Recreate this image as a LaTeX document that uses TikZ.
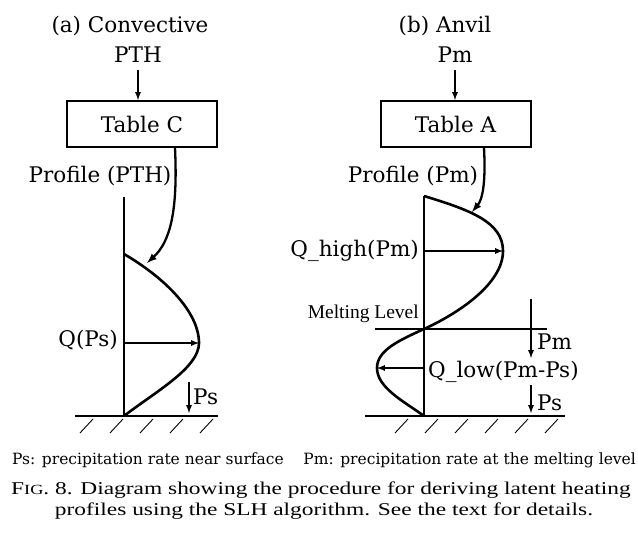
\documentclass[tikz,border=0pt]{standalone}
\usepackage{graphicx}
\usepackage{fontspec}
\setmainfont{DejaVu Serif}
\newfontfamily\timesfont{Liberation Serif}
\usetikzlibrary{positioning}

\begin{document}
\begin{tikzpicture}[x=1pt,y=-1pt,
    lbl/.style={font=\fontsize{21.5}{24}\selectfont, inner sep=0pt},
    tablebox/.style={draw, line width=2pt, minimum width=150pt, minimum height=46pt, inner sep=0pt, font=\fontsize{21.5}{24}\selectfont},
    note/.style={font=\fontsize{15.5}{18}\selectfont, inner sep=0pt},
    capline/.style={font=\timesfont\fontsize{18}{20}\selectfont, inner sep=0pt},
    arr/.style={-latex, line width=1.7pt},
    bent/.style={-latex, line width=2.3pt},
    prof/.style={line width=2.6pt},
    axis/.style={line width=1.3pt},
    gnd/.style={line width=2.2pt},
    hatch/.style={line width=0.9pt}]

    \useasboundingbox (0,0) rectangle (638,545);

    % (a) convective
    \node[lbl, anchor=base] (ttlA) at (130,33) {(a) Convective};
    \node[lbl, anchor=base] (inA) at (138,63) {PTH};
    \node[tablebox] (tabC) at (142,124) {Table C};
    \node[lbl, anchor=base] (profA) at (100,183) {Profile (PTH)};
    \draw[arr] ([yshift=-7pt]inA.south) -- (inA.south |- tabC.north);

    \coordinate (axTopA) at (124,197);
    \coordinate (gndA) at (124,416);
    \coordinate (topPA) at (124,254);
    \coordinate (peakA) at (199,343);
    \coordinate (hitA) at (147,263);
    \draw[axis] (axTopA) -- (gndA);
    \draw[prof] (topPA) .. controls (165,278) and (199,312) .. (peakA) .. controls (199,368) and (155,392) .. (gndA);
    \draw[bent] ([xshift=33pt]tabC.south) .. controls (178,212) and (170,242) .. (hitA);

    \draw[arr] (gndA |- peakA) -- (peakA);
    \node[lbl, anchor=base east] (qA) at (118,347) {Q(Ps)};

    \coordinate (psTopA) at (189,382);
    \draw[arr] (psTopA) -- (189,413);
    \node[lbl, anchor=base west] (psA) at (193,405) {Ps};

    \draw[gnd] (75,416) -- (218,416);
    \foreach \x in {93,123,...,213}
        \draw[hatch] (\x,419) -- ++(-13,14);

    % (b) anvil
    \node[lbl, anchor=base] (ttlB) at (445,33) {(b) Anvil};
    \node[lbl, anchor=base] (inB) at (455,63) {Pm};
    \node[tablebox] (tabA) at (455.5,124) {Table A};
    \node[lbl, anchor=base] (profB) at (413,183) {Profile (Pm)};
    \draw[arr] ([yshift=-7pt]inB.south) -- (inB.south |- tabA.north);

    \coordinate (axTopB) at (424,196);
    \coordinate (gndB) at (424,416);
    \coordinate (peakB) at (503,251);
    \coordinate (meltB) at (424,329);
    \coordinate (lowB) at (377,368);
    \coordinate (hitB) at (472,212);
    \draw[axis] (axTopB) -- (gndB);
    \draw[prof] (axTopB) .. controls (470,210) and (503,222) .. (peakB)
        .. controls (503,285) and (455,315) .. (meltB)
        .. controls (400,340) and (377,350) .. (lowB)
        .. controls (377,388) and (405,402) .. (gndB);
    \draw[bent] ([xshift=28.5pt]tabA.south) .. controls (486,185) and (482,200) .. (hitB);

    \draw[arr] (gndB |- peakB) -- (peakB);
    \node[lbl, anchor=base east] (qhigh) at (419,257) {Q\_high(Pm)};

    \node[font=\timesfont\fontsize{19.5}{22}\selectfont, inner sep=0pt, anchor=base east] (melt) at (419,319) {Melting Level};
    \draw[gnd] (375,329) -- (547,329);

    \draw[arr] (531,299) -- (531,358);
    \node[lbl, anchor=base west] (pmB) at (537,350) {Pm};

    \draw[arr] (gndB |- lowB) -- (lowB);
    \node[lbl, anchor=base west] (qlow) at (428,378) {Q\_low(Pm-Ps)};

    \draw[arr] (531,385) -- (531,413);
    \node[lbl, anchor=base west] (psB) at (537,411) {Ps};

    \draw[gnd] (365,416) -- (565,416);
    \foreach \x in {408,438,...,558}
        \draw[hatch] (\x,419) -- ++(-13,14);

    % notes and caption
    \node[note, anchor=base west] (psnote) at (12,465) {Ps: precipitation rate near surface};
    \node[note, anchor=base east] (pmnote) at (636,465) {Pm: precipitation rate at the melting level};
    \node[capline, anchor=base] (cap1) at (321,495) {\scalebox{1.3}[1]{F{\fontsize{14}{16}\selectfont IG}. 8. Diagram showing the procedure for deriving latent heating}};
    \node[capline, anchor=base] (cap2) at (324,515) {\scalebox{1.3}[1]{profiles using the SLH algorithm. See the text for details.}};
\end{tikzpicture}
\end{document}
